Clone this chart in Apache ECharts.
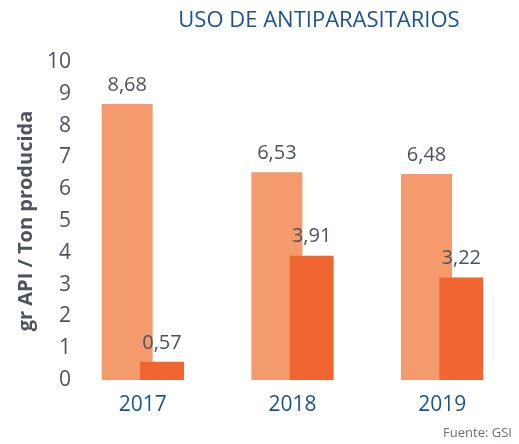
<!DOCTYPE html>
<html>
<head>
<meta charset="utf-8">
<script src="https://cdn.jsdelivr.net/npm/echarts@6/dist/echarts.min.js"></script>
<style>html,body{margin:0;padding:0;background:#fff}#c{width:519px;height:444px}</style>
</head>
<body>
<div id="c"></div>
<script>
const categories = ['2017', '2018', '2019'];
const seriesA = [8.68, 6.53, 6.48];
const seriesB = [0.57, 3.91, 3.22];
const yTicks = [0, 1, 2, 3, 4, 5, 6, 7, 8, 9, 10];

const chart = echarts.init(document.getElementById('c'));
const fmt = p => String(p.value.toFixed(2)).replace('.', ',');
const labelStyle = {show: true, position: 'top', distance: 9, color: '#4d535e', fontSize: 20, fontFamily: 'Open Sans', formatter: fmt};
chart.setOption({
  animation: false,
  title: {
    text: 'USO DE ANTIPARASITARIOS', left: 314, top: 5, textAlign: 'center',
    textStyle: {color: '#1a5394', fontSize: 22, fontWeight: 'normal', fontFamily: 'Open Sans'}
  },
  graphic: [{type: 'text', right: 7, bottom: 4, style: {text: 'Fuente: GSI', fill: '#6b6f76', fontSize: 13, fontFamily: 'Open Sans'}}],
  grid: {left: 68, right: 2, top: 62, bottom: 64},
  xAxis: {
    type: 'category', data: categories,
    axisLine: {show: false}, axisTick: {show: false},
    axisLabel: {color: '#1a5394', fontSize: 21, fontFamily: 'Open Sans', margin: 15}
  },
  yAxis: {
    type: 'value', min: yTicks[0], max: yTicks[yTicks.length - 1], interval: 1,
    splitLine: {show: false}, axisLine: {show: false}, axisTick: {show: false},
    axisLabel: {color: '#4d535e', fontSize: 21, fontFamily: 'Open Sans', margin: -3},
    name: 'gr API / Ton producida', nameLocation: 'middle', nameRotate: 90, nameGap: 31,
    nameTextStyle: {color: '#4d535e', fontSize: 20, fontWeight: 'bold', fontFamily: 'Open Sans'}
  },
  series: [
    {type: 'bar', data: seriesA, barWidth: 51, barGap: '-25%', itemStyle: {color: '#f59a6c'}, label: labelStyle},
    {type: 'bar', data: seriesB, barWidth: 44, itemStyle: {color: '#f16531'}, label: labelStyle}
  ]
});
</script>
</body>
</html>
